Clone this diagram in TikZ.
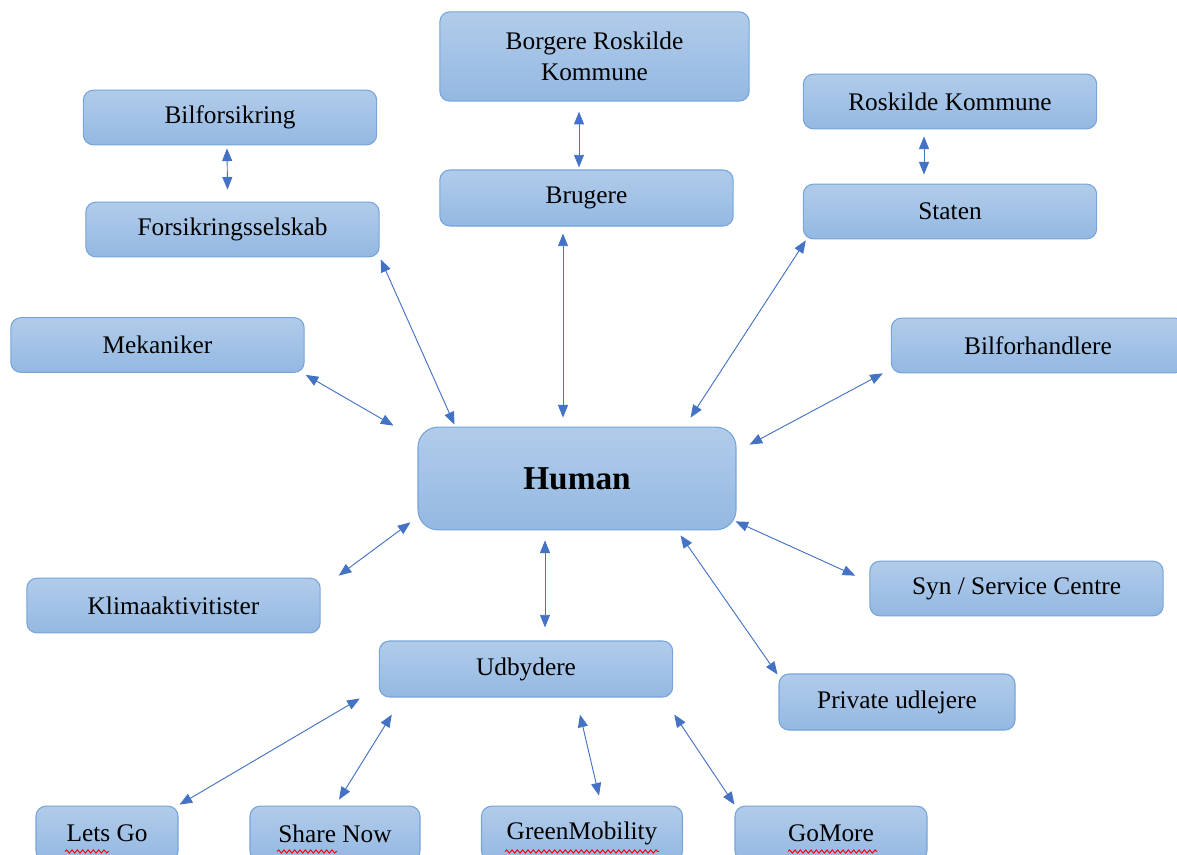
\documentclass[tikz,border=0pt]{standalone}
\usepackage{fontspec}
\setmainfont{Liberation Serif}
\usetikzlibrary{arrows.meta,calc,decorations.pathmorphing}

\definecolor{boxtop}{RGB}{177,204,234}
\definecolor{boxbot}{RGB}{148,184,226}
\definecolor{boxline}{RGB}{118,164,219}
\definecolor{linkblue}{RGB}{68,114,196}

\tikzset{
  actor/.style={draw=boxline, line width=0.8pt, top color=boxtop, bottom color=boxbot,
    rounded corners=7.5pt, minimum width=220pt, minimum height=41pt, inner sep=2pt,
    align=center, font=\fontsize{19}{23}\selectfont},
  link/.style={draw=linkblue, line width=0.7pt,
    {Triangle[length=9.5pt,width=7.5pt]}-{Triangle[length=9.5pt,width=7.5pt]}},
  typo/.style={draw=red, line width=0.7pt, decorate,
    decoration={snake, amplitude=1.2pt, segment length=4pt}}
}

\begin{document}
\begin{tikzpicture}[x=0.75pt,y=-0.75pt]
	    \useasboundingbox (0,0) rectangle (1177,854);
	    \clip (0,0) rectangle (1177,854);
	    % top
	    \node[actor, minimum width=232pt, minimum height=67pt] (borg) at (594.5,56.5) {Borgere Roskilde\\Kommune};
	    \node[actor] (bil) at (230,117.5) {Bilforsikring};
	    \node[actor] (rosk) at (950,101.5) {Roskilde Kommune};
	    \node[actor, minimum height=42pt] (brug) at (586.5,198) {Brugere};
	    \node[actor] (fors) at (232.5,229.5) {Forsikringsselskab};
	    \node[actor] (stat) at (950,211.5) {Staten};
	    % middle
	    \node[actor] (mek) at (157.5,345) {Mekaniker};
	    \node[actor] (bilf) at (1038,345.5) {Bilforhandlere};
	    \node[actor, minimum width=238.5pt, minimum height=77pt, rounded corners=15pt,
	      font=\bfseries\fontsize{25}{30}\selectfont] (hum) at (577,478.5) {Human};
	    \node[actor] (klim) at (173.5,605.5) {Klimaaktivitister};
	    \node[actor] (syn) at (1016.5,588.5) {Syn / Service Centre};
	    \node[actor, minimum height=42pt] (udb) at (526,669) {Udbydere};
	    \node[actor, minimum width=177pt, minimum height=42pt] (priv) at (897,702) {Private udlejere};
	    % bottom
	    \node[actor, minimum width=106.5pt] (lets) at (107,833.5) {Lets Go};
	    \node[actor, minimum width=127.5pt] (share) at (335,833.5) {Share Now};
	    \node[actor, minimum width=150.75pt] (green) at (582,833.5) {GreenMobility};
	    \node[actor, minimum width=144pt] (gomore) at (831,833.5) {GoMore};
	    % spell-check marks
	    \draw[typo] ($(lets.center)+(-42,18)$) -- ++(44,0);
	    \draw[typo] ($(share.center)+(-58,18)$) -- ++(60,0);
	    \draw[typo] ($(green.center)+(-77,18)$) -- ++(154,0);
	    \draw[typo] ($(gomore.center)+(-43,18)$) -- ++(89,0);
	    % links
	    \draw[link] ($(bil.south)+(-3,3)$) -- ($(fors.north)+(-5,-12)$);
	    \draw[link] ($(borg.south)+(-15.5,10)$) -- ($(brug.north)+(-7.5,-2)$);
	    \draw[link] ($(rosk.south)+(-26,7)$) -- ($(stat.north)+(-26,-9)$);
	    \draw[link] ($(fors.south east)+(1,2)$) -- ($(hum.north west)+(37,-2)$);
	    \draw[link] ($(brug.south)+(-23.5,7)$) -- ($(hum.north)+(-14,-9)$);
	    \draw[link] ($(stat.south west)+(3,1)$) -- ($(hum.north east)+(-46,-9)$);
	    \draw[link] ($(mek.south east)+(1,2)$) -- ($(hum.north west)+(-24,-1)$);
	    \draw[link] ($(bilf.south west)+(-8,0)$) -- ($(hum.north east)+(13,18)$);
	    \draw[link] ($(klim.north east)+(18,-2)$) -- ($(hum.south west)+(-7,-8)$);
	    \draw[link] ($(hum.south)+(-32,10)$) -- ($(udb.north)+(19,-13)$);
	    \draw[link] ($(hum.south east)+(-1,-9)$) -- ($(syn.north west)+(-14,15)$);
	    \draw[link] ($(hum.south east)+(-56,5)$) -- ($(priv.north west)+(-1,1)$);
	    \draw[link] ($(udb.south west)+(-19,1)$) -- ($(lets.north east)+(1,-1)$);
	    \draw[link] ($(udb.south west)+(13,17)$) -- ($(share.north)+(4,-6)$);
	    \draw[link] ($(udb.south)+(54,17)$) -- ($(green.north)+(17,-10)$);
	    \draw[link] ($(udb.south east)+(1,17)$) -- ($(gomore.north west)+(0,-1)$);
\end{tikzpicture}
\end{document}
